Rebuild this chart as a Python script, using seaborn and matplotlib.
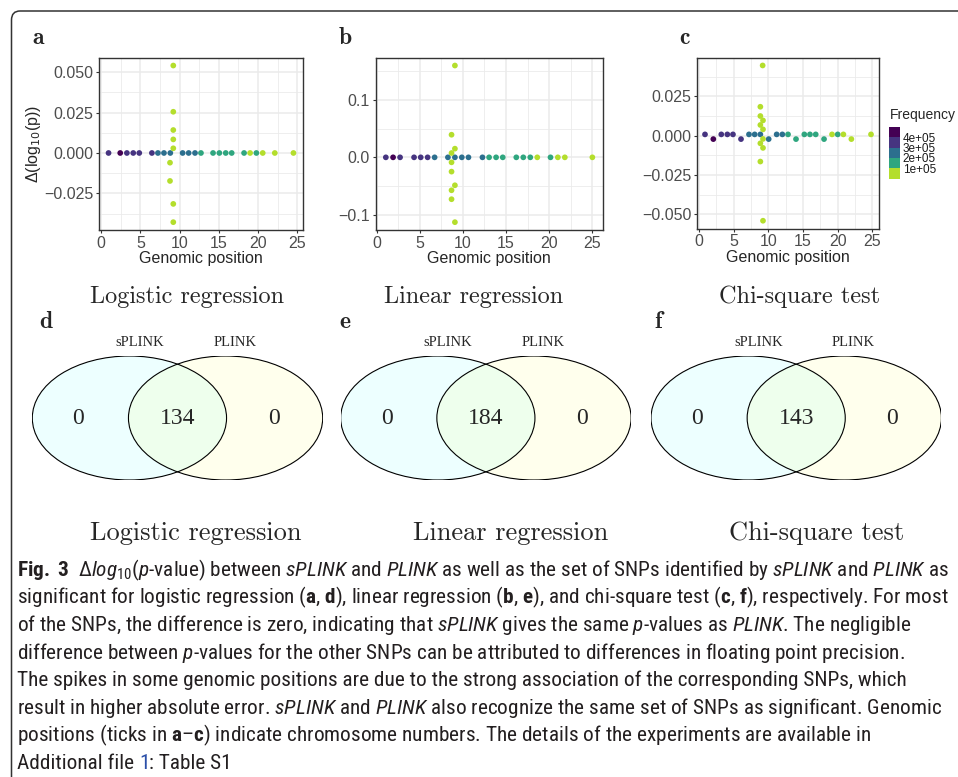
import matplotlib
matplotlib.use("Agg")
import numpy as np
import pandas as pd
import matplotlib.pyplot as plt
import seaborn as sns
from matplotlib import font_manager
from matplotlib.colors import ListedColormap, BoundaryNorm
from matplotlib.cm import ScalarMappable
from matplotlib.patches import Ellipse, PathPatch
from matplotlib.path import Path
from matplotlib.ticker import MultipleLocator, FuncFormatter

W, H = 958, 777

# SNP frequency per chromosome (1..23), shared by panels a-c
chrom_freq = [380000, 420000, 350000, 330000, 310000, 320000, 280000, 270000,
              230000, 250000, 240000, 230000, 180000, 150000, 140000, 150000,
              120000, 140000, 90000, 110000, 60000, 60000, 95000]
spike_freq = 50000

# logistic regression
pos_log = [0.94, 2.43, 3.28, 4.09, 4.86, 6.47, 7.24, 8.01, 8.82, 10.39, 11.16, 11.97,
           12.73, 14.27, 15.08, 15.89, 16.65, 18.23, 19.0, 19.80, 20.61, 22.15, 24.53]
delta_log = [0.0, 0.0, 0.0, 0.0, 0.0, 0.0, 0.0, 0.0, 0.0, 0.0, 0.0, 0.0,
             0.0, 0.0, 0.0, 0.0, 0.0, 0.0, 0.0, 0.0, 0.0, 0.0, 0.0]
spike_pos_log = [9.20, 9.20, 9.20, 9.20, 9.20, 8.78, 8.78, 9.20, 9.20]
spike_delta_log = [0.0541, 0.0255, 0.0142, 0.0084, 0.0029, -0.0060, -0.0173, -0.0315, -0.0428]

# linear regression
pos_lin = [1.08, 1.92, 2.73, 4.35, 5.12, 5.92, 6.73, 8.27, 9.08, 9.88, 10.65, 12.27,
           13.04, 13.85, 14.62, 16.19, 17.0, 17.81, 18.62, 20.15, 21.0, 21.81, 25.0]
delta_lin = [0.0, 0.0, 0.0, 0.0, 0.0, 0.0, 0.0, 0.0, 0.0, 0.0, 0.0, 0.0,
             0.0, 0.0, 0.0, 0.0, 0.0, 0.0, 0.0, 0.0, 0.0, 0.0, 0.0]
spike_pos_lin = [9.08, 8.69, 9.08, 8.69, 8.69, 8.69, 9.08, 8.69, 8.69, 9.08]
spike_delta_lin = [0.160, 0.0394, 0.0151, 0.0075, -0.0087, -0.0249, -0.0487, -0.0574, -0.073, -0.113]

# chi-square test
pos_chi = [0.87, 2.07, 3.22, 4.09, 4.90, 6.06, 7.21, 8.03, 8.85, 10.05, 11.2, 12.02,
           12.84, 13.99, 15.19, 16.0, 16.83, 18.03, 19.18, 20.0, 20.82, 21.97, 24.8]
delta_chi = [0.0008, -0.0022, 0.0008, 0.0008, 0.0008, -0.0022, 0.0008, 0.0008, 0.0008, -0.0022, 0.0008, 0.0008,
             0.0008, -0.0022, 0.0008, 0.0008, 0.0008, -0.0022, 0.0008, 0.0008, 0.0008, -0.0022, 0.0008]
spike_pos_chi = [9.18, 8.85, 8.85, 9.23, 8.85, 9.23, 9.23, 8.85, 9.23, 8.85, 9.23]
spike_delta_chi = [0.0447, 0.0184, 0.0125, 0.0097, 0.0068, 0.0040, -0.0021, -0.0049, -0.0078, -0.0165, -0.0542]

freq_bins = [0, 100000, 200000, 300000, 400000, 500000]
freq_colors = ["#B4DE2C", "#2FA67F", "#2C6F8E", "#463480", "#440154"]
freq_labels = ["1e+05", "2e+05", "3e+05", "4e+05"]

# venn counts (sPLINK only, both, PLINK only)
venn_logistic = [0, 134, 0]
venn_linear = [0, 184, 0]
venn_chi = [0, 143, 0]
set_names = ["sPLINK", "PLINK"]
tests = ["Logistic regression", "Linear regression", "Chi-square test"]

sns.set_style("white")
plt.rcParams["font.family"] = ["Liberation Sans", "DejaVu Sans"]

# pick a condensed sans for the caption if one is installed
entries = font_manager.fontManager.ttflist
cap_family, cap_stretch = "Liberation Sans", "normal"
for fam, st in [("Liberation Sans Narrow", None), ("Roboto Condensed", None),
                ("Open Sans Condensed", None), ("DejaVu Sans", "condensed"),
                ("Noto Sans", "condensed"), ("Open Sans", "condensed"),
                ("Noto Sans", "semi-condensed"), ("Open Sans", "semi-condensed"),
                ("DejaVu Sans", "semi-condensed")]:
    if any(e.name == fam and (st is None or e.stretch == st) for e in entries):
        cap_family, cap_stretch = fam, (st or "normal")
        break
pat = cap_family if cap_stretch == "normal" else f"{cap_family}:{cap_stretch}"
plt.rcParams["mathtext.fontset"] = "custom"
plt.rcParams["mathtext.rm"] = pat
plt.rcParams["mathtext.it"] = pat + ":italic"
plt.rcParams["mathtext.bf"] = pat + ":bold"
cap_prop = dict(family=cap_family, stretch=cap_stretch)

fig = plt.figure(figsize=(W / 100, H / 100), dpi=100)


def rect(l, t, r, b):
    return [l / W, 1 - b / H, (r - l) / W, (b - t) / H]


def fmt(decimals):
    def f(v, _):
        v = round(v, 6) + 0.0
        return f"{v:.{decimals}f}".replace("-", "\u2212")
    return FuncFormatter(f)


palette = dict(enumerate(freq_colors))


def scatter_panel(ax, pos, delta, spos, sdelta, ystep, decimals):
    df = pd.DataFrame({
        "pos": list(pos) + list(spos),
        "delta": list(delta) + list(sdelta),
        "freq": list(chrom_freq) + [spike_freq] * len(spos),
    })
    df["bin"] = pd.cut(df["freq"], freq_bins, labels=False)
    sns.scatterplot(data=df, x="pos", y="delta", hue="bin", palette=palette,
                    s=17, linewidth=0, legend=False, ax=ax, zorder=3)
    ax.set_axisbelow(True)
    ax.xaxis.set_major_locator(MultipleLocator(5))
    ax.xaxis.set_minor_locator(MultipleLocator(2.5))
    ax.yaxis.set_major_locator(MultipleLocator(ystep))
    ax.yaxis.set_minor_locator(MultipleLocator(ystep / 2))
    ax.yaxis.set_major_formatter(fmt(decimals))
    ax.grid(True, which="major", color="#EBEBEB", lw=1.1)
    ax.grid(True, which="minor", color="#EBEBEB", lw=0.6)
    for sp in ax.spines.values():
        sp.set_color("#333333")
        sp.set_linewidth(1.0)
    ax.tick_params(which="major", length=2.5, width=0.8, color="#333333",
                   labelsize=11.5, labelcolor="#4D4D4D", pad=1.5, left=True, bottom=True)
    ax.tick_params(which="minor", length=0)
    ax.set_xlabel("Genomic position", fontsize=11.5, labelpad=0.5)
    ax.set_ylabel("")


ax_a = fig.add_axes(rect(99.3, 57.7, 302.7, 230))
ax_b = fig.add_axes(rect(375.5, 57.7, 602.7, 230))
ax_c = fig.add_axes(rect(696.7, 57.7, 879.3, 228.5))
scatter_panel(ax_a, pos_log, delta_log, spike_pos_log, spike_delta_log, 0.025, 3)
scatter_panel(ax_b, pos_lin, delta_lin, spike_pos_lin, spike_delta_lin, 0.1, 1)
scatter_panel(ax_c, pos_chi, delta_chi, spike_pos_chi, spike_delta_chi, 0.025, 3)
ax_a.set_ylabel("\u0394(log$_{10}$(p))", fontsize=11.5, labelpad=1, math_fontfamily="dejavusans")

# binned colour legend
cmap = ListedColormap(freq_colors)
norm = BoundaryNorm(freq_bins, cmap.N)
cax = fig.add_axes(rect(889, 126.7, 900, 178.7))
cb = fig.colorbar(ScalarMappable(norm=norm, cmap=cmap), cax=cax, ticks=freq_bins[1:5])
cb.ax.set_yticklabels(freq_labels)
cb.ax.minorticks_off()
cb.outline.set_visible(False)
cb.ax.tick_params(length=0, labelsize=8.5, pad=2, labelcolor="#1A1A1A")
fig.text(890 / W, 1 - 115 / H, "Frequency", fontsize=10, va="center", ha="left")


def venn(left, counts):
    ax = fig.add_axes(rect(left, 356, left + 290.4, 480))
    ax.set_xlim(-1.495, 1.495)
    ax.set_ylim(-1, 1)
    ax.axis("off")
    ax.add_patch(Ellipse((-0.495, 0), 2, 2, facecolor=(0, 1, 1, 0.07), edgecolor="none"))
    ax.add_patch(Ellipse((0.495, 0), 2, 2, facecolor=(1, 1, 0, 0.07), edgecolor="none"))
    for cx in (-0.495, 0.495):
        ax.add_patch(Ellipse((cx, 0), 2, 2, facecolor="none", edgecolor="black", lw=0.8))
    for x, c in zip([-1.02, 0.0, 0.99], counts):
        ax.text(x, 0, str(c), ha="center", va="center", fontsize=17,
                family="Liberation Serif")
    for x, n in zip([-0.39, 0.59], set_names):
        ax.text(x, 1.21, n, ha="center", va="center", fontsize=10.5,
                family="Liberation Serif", clip_on=False)


venn(32.3, venn_logistic)
venn(340.7, venn_linear)
venn(651.0, venn_chi)

serif = "cmr10"
for x, y, s in [(38, 38, "a"), (345, 38, "b"), (685, 38, "c"),
                (46, 322, "d"), (345, 322, "e"), (658, 322, "f")]:
    fig.text(x / W, 1 - y / H, s, fontsize=17, family="cmb10", ha="center", va="center")
for x, s in zip([187, 474, 800], tests):
    fig.text(x / W, 1 - 297 / H, s, fontsize=17.5, family=serif, ha="center", va="center")
for x, s in zip([196, 511, 817], tests):
    fig.text(x / W, 1 - 533 / H, s, fontsize=19, family=serif, ha="center", va="center")


# frame line (left + top, rounded corner)
def P(x, y):
    return (x / W, 1 - y / H)


frame = Path([P(11.5, 777), P(11.5, 20), P(11.5, 11), P(20, 11), P(958, 11)],
             [Path.MOVETO, Path.LINETO, Path.CURVE3, Path.CURVE3, Path.LINETO])
fig.add_artist(PathPatch(frame, transform=fig.transFigure, facecolor="none",
                         edgecolor="#333333", lw=1.1))

# caption
caption = [
    r"$\mathbf{Fig.\ 3}$  Δ$\mathit{log}_{\mathrm{10}}$($\mathit{p}$-value) between $\mathit{sPLINK}$ and $\mathit{PLINK}$ as well as the set of SNPs identified by $\mathit{sPLINK}$ and $\mathit{PLINK}$ as",
    r"significant for logistic regression ($\mathbf{a}$, $\mathbf{d}$), linear regression ($\mathbf{b}$, $\mathbf{e}$), and chi-square test ($\mathbf{c}$, $\mathbf{f}$), respectively. For most",
    r"of the SNPs, the difference is zero, indicating that $\mathit{sPLINK}$ gives the same $\mathit{p}$-values as $\mathit{PLINK}$. The negligible",
    r"difference between $\mathit{p}$-values for the other SNPs can be attributed to differences in floating point precision.",
    r"The spikes in some genomic positions are due to the strong association of the corresponding SNPs, which",
    r"result in higher absolute error. $\mathit{sPLINK}$ and $\mathit{PLINK}$ also recognize the same set of SNPs as significant. Genomic",
    r"positions (ticks in $\mathbf{a}$–$\mathbf{c}$) indicate chromosome numbers. The details of the experiments are available in",
]
cap_color = "#231F20"
x0 = 17 / W
renderer = fig.canvas.get_renderer()
t0 = fig.text(x0, 0, caption[0], fontsize=13, color=cap_color, **cap_prop)
cap_size = 13 * 931 / t0.get_window_extent(renderer).width
t0.set_fontsize(cap_size)
base = 576
step = 27.6
t0.set_y(1 - base / H)
for i, line in enumerate(caption[1:], start=1):
    fig.text(x0, 1 - (base + step * i) / H, line, fontsize=cap_size, color=cap_color, **cap_prop)

# last line with the blue file link
y8 = 1 - (base + step * 7) / H
ta = fig.text(x0, y8, "Additional file 1", fontsize=cap_size, alpha=0, **cap_prop)
t1 = fig.text(x0, y8, "1", fontsize=cap_size, alpha=0, **cap_prop)
wa = ta.get_window_extent(renderer).width / W
w1 = t1.get_window_extent(renderer).width / W
fig.text(x0, y8, "Additional file", fontsize=cap_size, color=cap_color, **cap_prop)
fig.text(x0 + wa - w1, y8, "1", fontsize=cap_size, color="#2B4FA8", **cap_prop)
fig.text(x0 + wa, y8, ": Table S1", fontsize=cap_size, color=cap_color, **cap_prop)
ta.remove()
t1.remove()

fig.savefig("out.png", dpi=100, facecolor="white")
